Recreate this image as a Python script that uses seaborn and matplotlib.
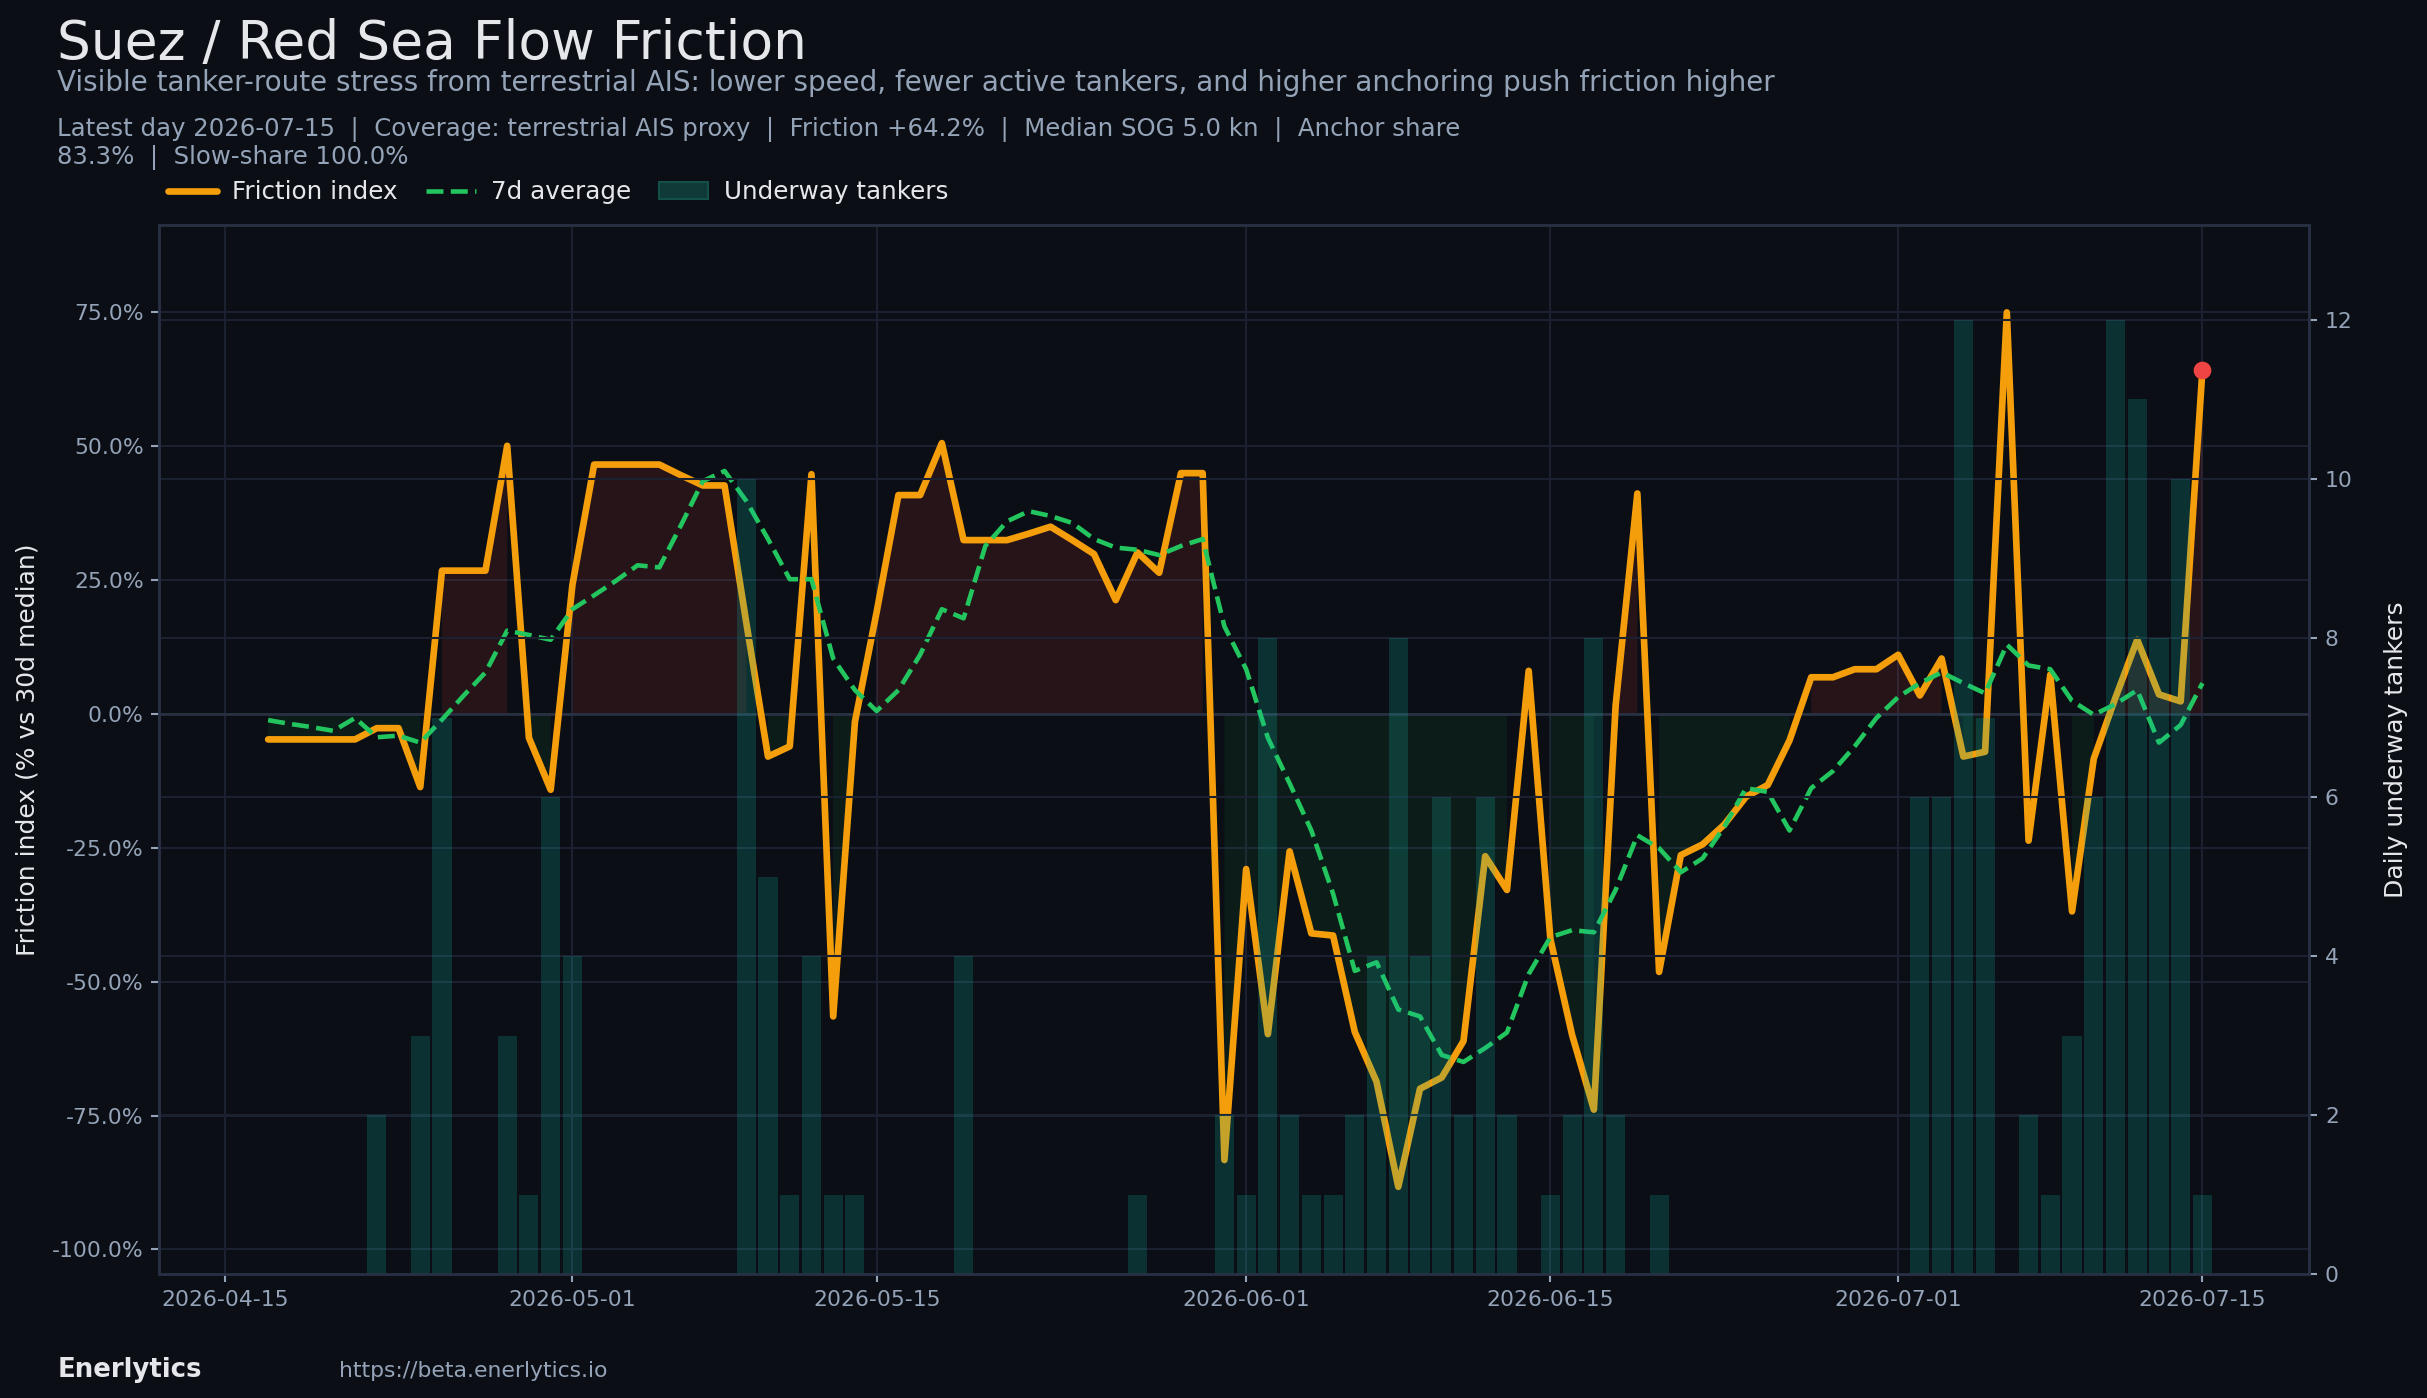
import numpy as np
import pandas as pd
import matplotlib
matplotlib.use("Agg")
import matplotlib.pyplot as plt
import matplotlib.dates as mdates
from matplotlib.patches import Patch
from matplotlib.lines import Line2D
import seaborn as sns

# Daily series, 2026-04-17 .. 2026-07-15
dates = pd.date_range("2026-04-17", "2026-07-15", freq="D")

friction = [
    -4.8, -4.8, -4.8, -4.8, -4.8, -2.7, -2.7, -13.7, 26.7, 26.7,
    26.7, 50.0, -4.5, -14.2, 24.0, 46.5, 46.5, 46.5, 46.5, 44.5,
    42.6, 42.6, 17.0, -8.0, -6.1, 44.7, -56.5, -1.5, 19.0, 40.8,
    40.8, 50.5, 32.4, 32.4, 32.4, 33.6, 34.9, 32.4, 29.8, 21.2,
    30.1, 26.3, 44.9, 44.9, -83.3, -29.0, -59.8, -25.7, -41.0, -41.4,
    -59.4, -68.7, -88.3, -70.0, -67.9, -61.1, -26.6, -32.9, 8.0, -42.1,
    -60.0, -73.9, 1.5, 41.1, -48.2, -26.4, -24.4, -20.7, -15.5, -13.3,
    -5.0, 6.8, 6.8, 8.3, 8.3, 11.0, 3.4, 10.3, -8.0, -7.1,
    74.9, -23.7, 7.3, -36.9, -8.4, 3.0, 13.8, 3.6, 2.3, 64.2,
]

avg_7d = [
    -1.2, -1.9, -2.5, -3.2, -0.8, -4.4, -4.1, -5.4, -1.1, 3.4,
    7.7, 15.5, 14.7, 13.8, 19.5, 22.1, 24.8, 27.7, 27.3, 35.2,
    43.4, 45.3, 39.7, 32.6, 25.1, 25.1, 10.3, 4.4, 0.5, 4.4,
    11.0, 19.5, 17.8, 31.3, 35.9, 37.8, 36.9, 35.6, 32.6, 31.0,
    30.6, 29.6, 31.3, 32.6, 16.3, 8.3, -4.5, -13.0, -21.8, -33.6,
    -48.0, -46.4, -55.2, -56.5, -63.7, -65.0, -62.4, -59.5, -48.6, -41.7,
    -40.4, -40.8, -32.9, -22.7, -25.1, -29.6, -27.0, -21.1, -13.9, -14.6,
    -21.8, -13.9, -10.7, -6.1, -0.8, 3.1, 5.7, 7.7, 5.7, 3.8,
    12.9, 9.0, 8.3, 2.4, -0.2, 1.8, 4.4, -5.4, -2.1, 5.7,
]

underway = [
    0, 0, 0, 0, 0, 2, 0, 3, 7, 0,
    0, 3, 1, 6, 4, 0, 0, 0, 0, 0,
    0, 0, 10, 5, 1, 4, 1, 1, 0, 0,
    0, 0, 4, 0, 0, 0, 0, 0, 0, 0,
    1, 0, 0, 0, 2, 1, 8, 2, 1, 1,
    2, 4, 8, 4, 6, 2, 6, 2, 0, 1,
    2, 8, 2, 0, 1, 0, 0, 0, 0, 0,
    0, 0, 0, 0, 0, 0, 6, 6, 12, 7,
    0, 2, 1, 3, 6, 12, 11, 8, 10, 1,
]

df = pd.DataFrame({"date": dates, "friction": friction,
                   "avg": avg_7d, "underway": underway})

BG = "#0b0e14"
GRID = "#1b2130"
SPINE = "#273042"
TXT = "#e5e7eb"
MUTED = "#94a3b8"
ORANGE = "#f59e0b"
GREEN = "#22c55e"
TEAL = "#14b8a6"

sns.set_theme(style="dark", rc={
    "figure.facecolor": BG, "axes.facecolor": BG, "savefig.facecolor": BG,
    "axes.edgecolor": SPINE, "grid.color": GRID, "text.color": TXT,
    "axes.labelcolor": TXT, "xtick.color": MUTED, "ytick.color": MUTED,
})
plt.rcParams["font.family"] = ["DejaVu Sans"]

fig = plt.figure(figsize=(16.18, 9.32), dpi=150)
ax1 = fig.add_axes([0.0657, 0.0886, 0.8858, 0.7508])
ax2 = ax1.twinx()

# shaded areas vs zero
f = df["friction"].values
ax1.fill_between(df["date"], 0, f, where=f >= 0, color="#ef4444", alpha=0.12, linewidth=0)
ax1.fill_between(df["date"], 0, f, where=f <= 0, color=GREEN, alpha=0.08, linewidth=0)
ax1.axhline(0, color="#283142", lw=1.3, zorder=1)

sns.lineplot(data=df, x="date", y="friction", ax=ax1, color=ORANGE, lw=3.2, zorder=3)
sns.lineplot(data=df, x="date", y="avg", ax=ax1, color=GREEN, lw=2.2,
             linestyle="--", zorder=4)
ax1.plot(df["date"].iloc[-1], f[-1], "o", color="#ef4444", ms=7.5, zorder=5)

# underway tanker bars on the right axis
ax2.bar(df["date"], df["underway"], width=0.88, color=TEAL, alpha=0.21, linewidth=0)

ax1.set_xlim(pd.Timestamp("2026-04-12"), pd.Timestamp("2026-07-19 22:00"))
ax1.set_ylim(-104.6, 91.3)
ax2.set_ylim(0, 13.2)

ax1.set_yticks([-100, -75, -50, -25, 0, 25, 50, 75])
ax1.yaxis.set_major_formatter(plt.FuncFormatter(lambda v, p: f"{v:.1f}%"))
ax2.set_yticks([0, 2, 4, 6, 8, 10, 12])
ax1.xaxis.set_major_locator(mdates.DayLocator(bymonthday=[1, 15]))
ax1.xaxis.set_major_formatter(mdates.DateFormatter("%Y-%m-%d"))

ax1.tick_params(axis="both", labelsize=10.5, colors=MUTED, length=4, width=1,
                left=True, bottom=True, right=False)
ax2.tick_params(axis="y", labelsize=10.5, colors=MUTED, length=4, width=1,
                left=False, right=True)
for ax in (ax1, ax2):
    for s in ax.spines.values():
        s.set_color(SPINE)
        s.set_linewidth(1.2)
ax1.grid(True, color=GRID, lw=1)
ax2.grid(True, axis="y", color=GRID, lw=1)
ax2.grid(False, axis="x")

ax1.set_xlabel("")
ax1.set_ylabel("Friction index (% vs 30d median)", fontsize=12, color=TXT, labelpad=6)
ax2.set_ylabel("Daily underway tankers", fontsize=12, color=TXT, labelpad=15)

handles = [
    Line2D([], [], color=ORANGE, lw=3.2),
    Line2D([], [], color=GREEN, lw=2.2, linestyle="--"),
    Patch(facecolor="#0f3a37", edgecolor="#125049"),
]
ax1.legend(handles, ["Friction index", "7d average", "Underway tankers"],
           loc="lower left", bbox_to_anchor=(-0.004, 1.003), ncol=3, frameon=False,
           fontsize=11.8, labelcolor=TXT, handlelength=2.0, handletextpad=0.62,
           columnspacing=1.15, borderaxespad=0.3)

fig.text(0.0236, 0.958, "Suez / Red Sea Flow Friction", fontsize=25.6, color=TXT, va="baseline")
fig.text(0.0236, 0.935, "Visible tanker-route stress from terrestrial AIS: lower speed, fewer active "
         "tankers, and higher anchoring push friction higher", fontsize=13.35, color=MUTED,
         va="baseline")
fig.text(0.0236, 0.9027, "Latest day 2026-07-15  |  Coverage: terrestrial AIS proxy  |  "
         "Friction +64.2%  |  Median SOG 5.0 kn  |  Anchor share", fontsize=11.7,
         color=MUTED, va="baseline")
fig.text(0.0236, 0.8825, "83.3%  |  Slow-share 100.0%", fontsize=11.7, color=MUTED, va="baseline")
fig.text(0.0236, 0.0152, "Enerlytics", fontsize=12.5, color=TXT, weight="bold", va="baseline")
fig.text(0.1397, 0.0152, "https://beta.enerlytics.io", fontsize=10.5, color=MUTED, va="baseline")

fig.savefig("out.png", dpi=150, facecolor=BG)
